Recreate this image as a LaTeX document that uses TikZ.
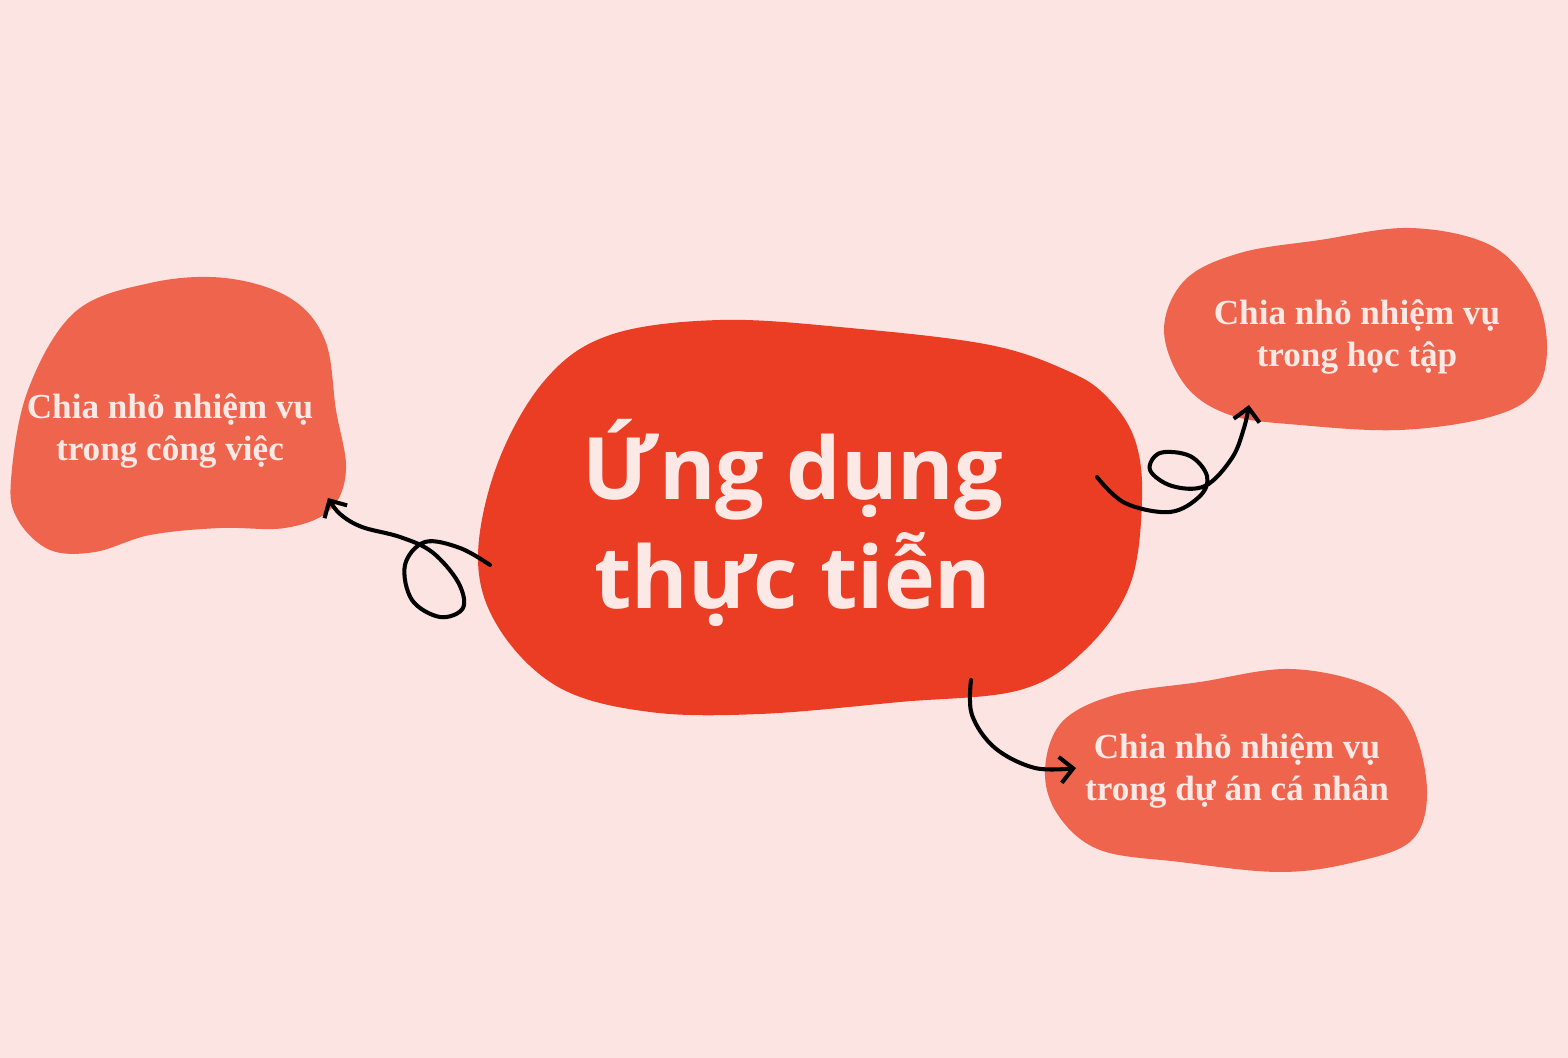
\documentclass[tikz,border=0pt]{standalone}
\usepackage{fontspec}
\usetikzlibrary{arrows.meta}
\newfontfamily\titlefont{Open Sans}
\newfontfamily\notefont{Liberation Serif}
\definecolor{bgpink}{HTML}{FCE4E3}
\definecolor{hubred}{HTML}{EA3D24}
\definecolor{leafred}{HTML}{EE644D}
\definecolor{paletxt}{HTML}{FCE9E6}

\begin{document}
\begin{tikzpicture}[x=0.01cm, y=-0.01cm,
    hub/.style={fill=hubred},
    leaf/.style={fill=leafred},
    ttl/.style={text=paletxt, align=center, font=\titlefont\bfseries\fontsize{24.5}{31}\selectfont},
    nt/.style={text=paletxt, align=center, font=\notefont\bfseries\fontsize{10}{12}\selectfont},
    ar/.style={-{Straight Barb[length=1.3mm,width=2.6mm]}, line width=1.15pt, black, line cap=round},
]
% === Background ===
\fill[bgpink] (0,0) rectangle (1568,1058);
\useasboundingbox (0,0) rectangle (1568,1058);

% === Centre blob ===
\fill[hub] plot[smooth cycle, tension=0.6] coordinates {
  (478,560) (497,465) (545,380) (610,335) (720,320) (850,328) (990,345)
  (1070,372) (1108,398) (1135,440) (1142,500) (1130,585) (1085,650)
  (1020,690) (900,702) (760,714) (650,712) (560,688) (500,630)};

% === Leaf blobs ===
\fill[leaf] plot[smooth cycle, tension=0.6] coordinates {
  (11,480) (28,390) (75,312) (150,283) (225,278) (290,298) (325,340)
  (336,410) (346,470) (330,510) (285,528) (220,528) (150,535) (95,552)
  (50,550) (18,520)};
\fill[leaf] plot[smooth cycle, tension=0.6] coordinates {
  (1164,330) (1185,280) (1240,253) (1320,240) (1410,228) (1490,245)
  (1533,290) (1547,345) (1535,392) (1490,417) (1400,430) (1300,425)
  (1230,415) (1185,385)};
\fill[leaf] plot[smooth cycle, tension=0.6] coordinates {
  (1045,770) (1062,722) (1115,695) (1200,682) (1290,669) (1370,686)
  (1410,722) (1427,790) (1412,840) (1355,862) (1280,872) (1180,862)
  (1100,850) (1058,815)};

% === Texts ===
\node[ttl] (hubtxt) at (793,523) {Ứng dụng\\thực tiễn};
\node[nt] (work) at (170,431) {Chia nhỏ nhiệm vụ\\trong công việc};
\node[nt] (study) at (1357,337) {Chia nhỏ nhiệm vụ\\trong học tập};
\node[nt] (proj) at (1237,771) {Chia nhỏ nhiệm vụ\\trong dự án cá nhân};

% --- connector ends ---
\coordinate (hub-w) at (490,565);
\coordinate (hub-e) at (1097,477);
\coordinate (hub-s) at (971,680);
\coordinate (work-in) at (328,498);
\coordinate (study-in) at (1249,405);
\coordinate (proj-in) at (1076,768);

% --- Arrows ---
\draw[ar] plot[smooth, tension=0.6] coordinates {
  (hub-w) (460,548) (425,542) (405,565) (412,600) (440,617) (463,608)
  (458,582) (432,552) (400,537) (362,527) (340,514) (work-in)};
\draw[ar] plot[smooth, tension=0.6] coordinates {
  (hub-e) (1125,503) (1170,512) (1200,496) (1207,476) (1190,456)
  (1160,453) (1150,470) (1172,486) (1205,486) (1232,458) (1244,428) (study-in)};
\draw[ar] plot[smooth, tension=0.6] coordinates {
  (hub-s) (972,715) (995,748) (1035,768) (proj-in)};
\end{tikzpicture}
\end{document}
